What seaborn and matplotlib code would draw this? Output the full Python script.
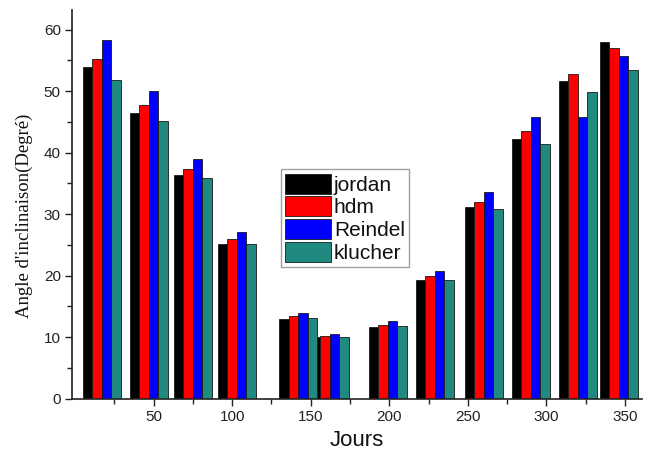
import numpy as np
import pandas as pd
import matplotlib
matplotlib.use("Agg")
import matplotlib.pyplot as plt
from matplotlib.ticker import FixedLocator, MultipleLocator
import seaborn as sns

# Representative day of each month (x position of each group of bars)
days = [17, 47, 75, 103, 142, 162, 199, 229, 260, 290, 320, 346]
models = ["jordan", "hdm", "Reindel", "klucher"]

# Optimal tilt angle (degrees) per model
jordan = [53.9, 46.5, 36.3, 25.1, 13.0, 10.1, 11.7, 19.3, 31.1, 42.3, 51.6, 58.0]
hdm = [55.3, 47.7, 37.4, 25.9, 13.4, 10.2, 12.0, 19.9, 32.0, 43.5, 52.8, 57.0]
reindel = [58.4, 50.1, 39.0, 27.1, 14.0, 10.6, 12.6, 20.8, 33.6, 45.8, 45.8, 55.7]
klucher = [51.9, 45.1, 35.9, 25.2, 13.1, 10.0, 11.8, 19.3, 30.9, 41.4, 49.8, 53.5]

x_ticks = [50, 100, 150, 200, 250, 300, 350]
x_minor = [25, 75, 125, 175, 225, 275, 325]
y_ticks = [0, 10, 20, 30, 40, 50, 60]

colors = ["#000000", "#ff0000", "#0000ff", "#218a80"]

df = pd.DataFrame({
    "Jours": days * 4,
    "angle": jordan + hdm + reindel + klucher,
    "model": [m for m in models for _ in days],
})

sns.set_style("ticks")
plt.rcParams["font.family"] = ["Liberation Sans", "DejaVu Sans"]

fig = plt.figure(figsize=(6.54, 4.58), dpi=100)
ax = fig.add_axes([0.110, 0.1295, 0.872, 0.8485])

# each group spans ~24 days; native width is the smallest gap between days
group_span = 24.2
min_gap = np.min(np.diff(sorted(days)))
sns.barplot(
    data=df, x="Jours", y="angle", hue="model", hue_order=models,
    palette=colors, saturation=1, native_scale=True,
    width=group_span / min_gap, gap=0,
    errorbar=None, edgecolor="#1a1a1a", linewidth=0.6, ax=ax,
)

ax.set_xlim(-2, 361)
ax.set_ylim(0, 63.2)
ax.set_xticks(x_ticks)
ax.set_yticks(y_ticks)
ax.xaxis.set_minor_locator(FixedLocator(x_minor))
ax.yaxis.set_minor_locator(MultipleLocator(5))
ax.tick_params(axis="both", which="major", direction="out", length=5, width=1.0,
               labelsize=11, colors="#222222", pad=3)
ax.tick_params(axis="both", which="minor", direction="out", length=3.5, width=1.0,
               colors="#222222")
for s in ["top", "right"]:
    ax.spines[s].set_visible(False)
for s in ["left", "bottom"]:
    ax.spines[s].set_linewidth(1.2)
    ax.spines[s].set_color("#222222")

ax.set_xlabel("Jours", fontsize=16, color="#111111")
ax.xaxis.set_label_coords(0.5, -0.08)
ax.set_ylabel("Angle d'inclinaison(Degré)", fontsize=13.5,
              family=["Liberation Serif", "DejaVu Serif"], color="#111111")
ax.yaxis.set_label_coords(-0.068, 0.47)

handles, labels = ax.get_legend_handles_labels()
leg = ax.legend(
    handles, labels, loc="upper left", bbox_to_anchor=(0.366, 0.59),
    fontsize=15, frameon=True, fancybox=False, edgecolor="#888888",
    handlelength=2.2, handleheight=1.1, handletextpad=0.15,
    labelspacing=0.08, borderpad=0.2, borderaxespad=0,
)
leg.get_frame().set_linewidth(1.0)
for t in leg.get_texts():
    t.set_color("#111111")

fig.savefig("out.png", dpi=100)
